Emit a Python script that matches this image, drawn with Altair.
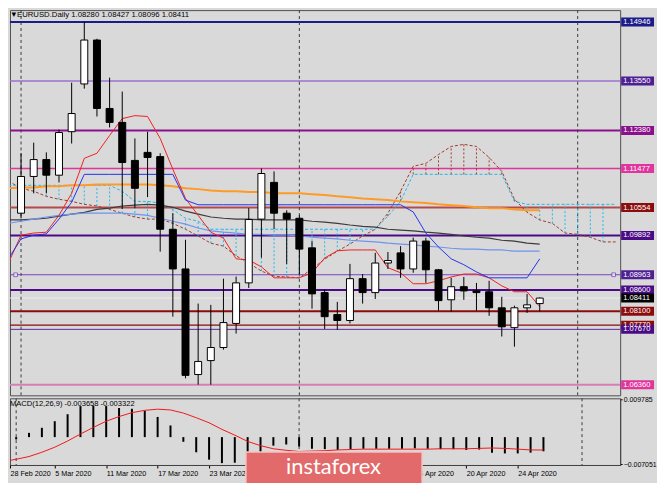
import altair as alt
import pandas as pd

# ---------------- data ----------------
date_labels = ["28 Feb 2020", "5 Mar 2020", "11 Mar 2020", "17 Mar 2020", "23 Mar 2020",
               "27 Mar 2020", "2 Apr 2020", "8 Apr 2020", "14 Apr 2020", "20 Apr 2020", "24 Apr 2020"]

opens = [1.0995, 1.1042, 1.1129, 1.1169, 1.1132, 1.1235, 1.1348, 1.1452, 1.1290, 1.1257,
         1.1167, 1.1186, 1.1176, 1.1004, 1.0910, 1.0660, 1.0693, 1.0724, 1.0781, 1.0877,
         1.1028, 1.1115, 1.1042, 1.1030, 1.0960, 1.0854, 1.0802, 1.0788, 1.0887, 1.0854,
         1.0924, 1.0948, 1.0910, 1.0976, 1.0908, 1.0837, 1.0868, 1.0858, 1.0856, 1.0818,
         1.0771, 1.0818, 1.08280]
highs = [1.1054, 1.1184, 1.1209, 1.1186, 1.1240, 1.1351, 1.1495, 1.1455, 1.1363, 1.1330,
         1.1219, 1.1235, 1.1184, 1.1042, 1.0979, 1.0828, 1.0825, 1.0887, 1.0892, 1.1054,
         1.1148, 1.1141, 1.1049, 1.1037, 1.0976, 1.0861, 1.0832, 1.0922, 1.0898, 1.0948,
         1.0950, 1.0964, 1.0984, 1.0984, 1.0910, 1.0889, 1.0891, 1.0877, 1.0882, 1.0844,
         1.0823, 1.0851, 1.08427]
lows = [1.0948, 1.1030, 1.1089, 1.1089, 1.1115, 1.1207, 1.1337, 1.1271, 1.1245, 1.1052,
        1.1054, 1.1080, 1.0951, 1.0797, 1.0651, 1.0636, 1.0636, 1.0719, 1.0757, 1.0865,
        1.0937, 1.1004, 1.0922, 1.0898, 1.0816, 1.0768, 1.0766, 1.0781, 1.0828, 1.0839,
        1.0910, 1.0889, 1.0901, 1.0877, 1.0811, 1.0809, 1.0837, 1.0811, 1.0799, 1.0750,
        1.0726, 1.0806, 1.08096]
closes = [1.1023, 1.1129, 1.1169, 1.1132, 1.1233, 1.1278, 1.1452, 1.1290, 1.1257, 1.1162,
          1.1101, 1.1174, 1.1004, 1.0910, 1.0658, 1.0691, 1.0724, 1.0783, 1.0877, 1.1027,
          1.1136, 1.1042, 1.1028, 1.0957, 1.0851, 1.0797, 1.0788, 1.0887, 1.0854, 1.0924,
          1.0930, 1.0910, 1.0976, 1.0908, 1.0835, 1.0868, 1.0858, 1.0854, 1.0818, 1.0773,
          1.0818, 1.0825, 1.08411]

tenkan = [1.0924, 1.0990, 1.0995, 1.0997, 1.1037, 1.1089, 1.1172, 1.1184, 1.1226, 1.1266,
          1.1273, 1.1271, 1.1219, 1.1146, 1.1077, 1.1037, 1.0997, 1.0983, 1.0934, 1.0931,
          1.0915, 1.0889, 1.0889, 1.0889, 1.0901, 1.0936, 1.0953, 1.0955, 1.0955, 1.0955,
          1.0913, 1.0901, 1.0875, 1.0875, 1.0882, 1.0891, 1.0898, 1.0898, 1.0889, 1.0870,
          1.0856, 1.0856, 1.0821]
kijun = [1.0934, 1.0981, 1.0990, 1.0993, 1.1028, 1.1068, 1.1134, 1.1134, 1.1134, 1.1134,
         1.1134, 1.1134, 1.1134, 1.1134, 1.1073, 1.1062, 1.1062, 1.1062, 1.1062, 1.1062,
         1.1062, 1.1062, 1.1062, 1.1062, 1.1062, 1.1062, 1.1062, 1.1062, 1.1062, 1.1062,
         1.1062, 1.1062, 1.1045, 1.0995, 1.0962, 1.0934, 1.0920, 1.0903, 1.0889, 1.0889,
         1.0889, 1.0889, 1.0934]
# senkou spans, 49 values (26 bars projected forward; only the visible part)
span_a = [1.1118, 1.1101, 1.1094, 1.1082, 1.1075, 1.1070, 1.1063, 1.1059, 1.1051, 1.1042,
          1.1033, 1.1028, 1.1028, 1.1018, 1.1004, 1.0988, 1.0971, 1.0964, 1.0941, 1.0924,
          1.0905, 1.0893, 1.0891, 1.0889, 1.0910, 1.0933, 1.0952, 1.0969, 1.0988, 1.1004,
          1.1042, 1.1094, 1.1153, 1.1160, 1.1181, 1.1200, 1.1205, 1.1200, 1.1174, 1.1141,
          1.1075, 1.1044, 1.1026, 1.1018, 1.0995, 1.0992, 1.0985, 1.0974, 1.0974]
span_b = [1.1108, 1.1108, 1.1108, 1.1108, 1.1108, 1.1108, 1.1108, 1.1108, 1.1108, 1.1094,
          1.1070, 1.1070, 1.1066, 1.1051, 1.1030, 1.1023, 1.1004, 1.1004, 1.1004, 1.1004,
          1.1004, 1.1004, 1.1004, 1.1004, 1.1004, 1.1004, 1.1004, 1.1004, 1.1004, 1.1004,
          1.1035, 1.1070, 1.1134, 1.1134, 1.1134, 1.1134, 1.1134, 1.1134, 1.1134, 1.1134,
          1.1070, 1.1063, 1.1063, 1.1063, 1.1063, 1.1063, 1.1063, 1.1063, 1.1063]
ma_orange = [1.1101, 1.1103, 1.1103, 1.1106, 1.1106, 1.1108, 1.1108, 1.1110, 1.1110, 1.1110,
             1.1110, 1.1110, 1.1108, 1.1106, 1.1101, 1.1099, 1.1096, 1.1094, 1.1094, 1.1092,
             1.1092, 1.1089, 1.1089, 1.1089, 1.1087, 1.1085, 1.1082, 1.1080, 1.1077, 1.1075,
             1.1073, 1.1070, 1.1068, 1.1066, 1.1063, 1.1061, 1.1059, 1.1056, 1.1054, 1.1054,
             1.1051, 1.1049, 1.1049]
ma_black = [1.1026, 1.1026, 1.1028, 1.1030, 1.1035, 1.1040, 1.1044, 1.1051, 1.1054, 1.1059,
            1.1061, 1.1063, 1.1061, 1.1056, 1.1047, 1.1040, 1.1033, 1.1030, 1.1028, 1.1028,
            1.1026, 1.1026, 1.1026, 1.1026, 1.1023, 1.1021, 1.1018, 1.1014, 1.1011, 1.1009,
            1.1004, 1.1002, 1.1000, 1.0997, 1.0995, 1.0992, 1.0988, 1.0985, 1.0983, 1.0978,
            1.0976, 1.0971, 1.0969]
ma_blue = [1.1018, 1.1023, 1.1028, 1.1033, 1.1037, 1.1040, 1.1042, 1.1042, 1.1042, 1.1042,
           1.1040, 1.1037, 1.1030, 1.1023, 1.1016, 1.1007, 1.1000, 1.0997, 1.0995, 1.0992,
           1.0992, 1.0990, 1.0990, 1.0988, 1.0985, 1.0983, 1.0981, 1.0978, 1.0976, 1.0974,
           1.0971, 1.0969, 1.0967, 1.0964, 1.0962, 1.0959, 1.0957, 1.0957, 1.0955, 1.0955,
           1.0952, 1.0952, 1.0952]
macd_main = [-0.0028, -0.0006, 0.0011, 0.0024, 0.0041, 0.0059, 0.0080, 0.0081, 0.0080, 0.0075,
             0.0073, 0.0068, 0.0052, 0.0030, -0.0012, -0.0039, -0.0058, -0.0067, -0.0066, -0.0060,
             -0.0045, -0.0022, -0.0019, -0.0024, -0.0030, -0.0031, -0.0033, -0.0031, -0.0030, -0.0030,
             -0.0030, -0.0030, -0.0029, -0.0030, -0.0031, -0.0031, -0.0033, -0.0032, -0.0040, -0.0042,
             -0.0042, -0.0040, -0.003658]
macd_signal = [-0.0063, -0.0057, -0.0050, -0.0039, -0.0026, -0.0010, 0.0008, 0.0025, 0.0041, 0.0053,
               0.0063, 0.0069, 0.0072, 0.0070, 0.0062, 0.0050, 0.0037, 0.0020, 0.0005, -0.0011,
               -0.0022, -0.0030, -0.0034, -0.0037, -0.0036, -0.0035, -0.0033, -0.0032, -0.0031, -0.0031,
               -0.0031, -0.0031, -0.0031, -0.0031, -0.0030, -0.0030, -0.0030, -0.0029, -0.0028, -0.0029,
               -0.0031, -0.0033, -0.003322]

level_prices = [1.14946, 1.13550, 1.12380, 1.11477, 1.10554, 1.09892, 1.08963, 1.08600,
                1.08100, 1.07770, 1.07670, 1.06360]
level_line_colors = ["#1b1b8a", "#9b70d2", "#8b108b", "#e0359c", "#b44b4b", "#4b0a86",
                     "#7444c0", "#4b0a86", "#8b0c0c", "#8b0c0c", "#5a2aa6", "#d77fb2"]
level_box_colors = ["#1b1b8a", "#4f1f94", "#8b108b", "#e0359c", "#8b0c0c", "#4b0a86",
                    "#4f1f94", "#4b0a86", "#8b0c0c", "#8b0c0c", "#4b0a86", "#e0359c"]
level_widths = [2, 1.5, 2, 1.5, 2, 2, 1, 2, 2, 1.5, 1, 2]
bid_price = 1.08411
axis_ticks = [1.14330, 1.13700, 1.13070, 1.12440, 1.11825, 1.11195, 1.10565, 1.09935,
              1.09320, 1.08690, 1.08060, 1.07445, 1.06815, 1.06185]
macd_ticks = [0.009785, 0.0, -0.007051]
separators = [1, 23, 45]

title_text = "EURUSD.Daily  1.08280 1.08427 1.08096 1.08411"
macd_text = "MACD(12,26,9) -0.003658 -0.003322"

# ---------------- layout constants ----------------
W, H_MAIN, H_MACD = 613, 387, 67
XMIN = 0.52
XMAX = XMIN + W / 12.92
PMIN, PMAX = 1.06108, 1.15229
MMIN, MMAX = -0.00718, 0.01000
BG = "#d9d9d9"
FONT = "Liberation Sans"
BOX_HALF = 0.00106

n = len(opens)
bars = pd.DataFrame({"i": list(range(n)), "o": opens, "h": highs, "l": lows, "c": closes})
bars["up"] = bars["c"] >= bars["o"]
bars["fill"] = bars["up"].map({True: "#ffffff", False: "#000000"})
bars = bars[bars["i"] >= 1]

ind = pd.DataFrame({"i": list(range(n)), "tenkan": tenkan, "kijun": kijun,
                    "orange": ma_orange, "black": ma_black, "lblue": ma_blue})
cloud = pd.DataFrame({"i": list(range(len(span_a))), "a": span_a, "b": span_b})
cloud["lo"] = cloud[["a", "b"]].min(axis=1)
cloud["hi"] = cloud[["a", "b"]].max(axis=1)
cloud["col"] = ["#a03a2a" if a > b else "#21b8ee" for a, b in zip(cloud["a"], cloud["b"])]
cloud_h = cloud[(cloud["i"] >= 1) & (cloud["i"] <= 47)]

levels = pd.DataFrame({"p": level_prices, "lc": level_line_colors, "bc": level_box_colors,
                       "w": level_widths})
levels["lab"] = levels["p"].map(lambda v: f"{v:.5f}")
boxes = pd.concat([levels[["p", "bc", "lab"]],
                   pd.DataFrame({"p": [bid_price], "bc": ["#000000"], "lab": [f"{bid_price:.5f}"]})],
                  ignore_index=True)
boxes = boxes.iloc[[0, 1, 2, 3, 4, 5, 6, 7, 12, 8, 9, 10, 11]].reset_index(drop=True)
boxes["y1"] = boxes["p"] - BOX_HALF
boxes["y2"] = boxes["p"] + BOX_HALF

xs = alt.Scale(domain=[XMIN, XMAX], nice=False, zero=False)
ys = alt.Scale(domain=[PMIN, PMAX], nice=False, zero=False)
X = alt.X("i:Q", scale=xs, axis=None)

def Yp(field):
    return alt.Y(f"{field}:Q", scale=ys, axis=None)

base_ind = alt.Chart(ind)

lvl_rules = alt.Chart(levels).mark_rule().encode(
    y=alt.Y("p:Q", scale=ys, axis=alt.Axis(orient="right", values=axis_ticks, format=".5f",
                                            title=None, grid=False, tickSize=3, tickColor="#000",
                                            labelFontSize=7.6, labelFont=FONT, labelColor="#000",
                                            labelPadding=2, domain=True, domainColor="#444")),
    color=alt.Color("lc:N", scale=None),
    strokeWidth=alt.StrokeWidth("w:Q", scale=None),
)
bid_rule = alt.Chart(pd.DataFrame({"p": [bid_price]})).mark_rule(color="#ececec", strokeWidth=1).encode(
    y=Yp("p"))
ends = alt.Chart(pd.DataFrame({"i": [XMIN + 0.05, XMAX - 0.12], "p": [1.08963, 1.08963]})).mark_square(
    size=14, filled=True, color="#ffffff", stroke="#6a3ab0", strokeWidth=1).encode(x=X, y=Yp("p"))

sep_main = alt.Chart(pd.DataFrame({"i": separators})).mark_rule(
    color="#3a3a3a", strokeDash=[3, 3], strokeWidth=1).encode(x=X)

hatch = alt.Chart(cloud_h).mark_rule(strokeDash=[2, 2], strokeWidth=1).encode(
    x=X, y=Yp("lo"), y2="hi:Q", color=alt.Color("col:N", scale=None))
line_a = alt.Chart(cloud).mark_line(color="#a03a2a", strokeDash=[3, 2], strokeWidth=1, clip=True).encode(
    x=X, y=Yp("a"))
line_b = alt.Chart(cloud).mark_line(color="#21b8ee", strokeDash=[3, 2], strokeWidth=1, clip=True).encode(
    x=X, y=Yp("b"))

ma_o = base_ind.mark_line(color="#ff9a26", strokeWidth=2, clip=True).encode(x=X, y=Yp("orange"))
ma_k = base_ind.mark_line(color="#3c3c3c", strokeWidth=1.2, clip=True).encode(x=X, y=Yp("black"))
ma_b = base_ind.mark_line(color="#6f94f0", strokeWidth=1.2, clip=True).encode(x=X, y=Yp("lblue"))
tk = base_ind.mark_line(color="#f02020", strokeWidth=1, clip=True).encode(x=X, y=Yp("tenkan"))
kj = base_ind.mark_line(color="#2233ee", strokeWidth=1, clip=True).encode(x=X, y=Yp("kijun"))

wicks = alt.Chart(bars).mark_rule(color="#000000", strokeWidth=1).encode(x=X, y=Yp("l"), y2="h:Q")
bodies = alt.Chart(bars).mark_bar(size=7, stroke="#000000", strokeWidth=1).encode(
    x=X, y=Yp("o"), y2="c:Q", fill=alt.Fill("fill:N", scale=None))

title_df = pd.DataFrame({"t": ["\u25BC", title_text], "x": [0, 7]})
title_mark = alt.Chart(title_df).mark_text(align="left", baseline="top", font=FONT,
                                             fontSize=7.8, color="#000").encode(
    x=alt.X("x:Q", scale=None), y=alt.value(0.5), text="t:N")

box_rects = alt.Chart(boxes).mark_rect().encode(
    x=alt.value(W + 1), x2=alt.value(W + 34), y=Yp("y1"), y2="y2:Q", fill=alt.Fill("bc:N", scale=None))
box_texts = alt.Chart(boxes).mark_text(align="left", baseline="middle", font=FONT, fontSize=7.6,
                                       color="#ffffff").encode(x=alt.value(W + 3), y=Yp("p"), text="lab:N")

main = alt.layer(lvl_rules, bid_rule, sep_main, hatch, line_a, line_b, ma_o, ma_k, ma_b, tk, kj,
                 wicks, bodies, ends, title_mark, box_rects, box_texts).properties(width=W, height=H_MAIN)

# ---------------- MACD panel ----------------
macd = pd.DataFrame({"i": list(range(n)), "m": macd_main, "s": macd_signal})
ms = alt.Scale(domain=[MMIN, MMAX], nice=False, zero=False)
label_arr = "[" + ",".join(f"'{d}'" for d in date_labels) + "]"
tick_vals = [XMIN] + list(range(4, 41, 4))
Xm = alt.X("i:Q", scale=xs, axis=alt.Axis(values=tick_vals,
                                          labelExpr=f"{label_arr}[round(datum.value/4)]",
                                          title=None, grid=False, tickSize=3, tickColor="#000",
                                          labelAlign="left", labelFontSize=7.2, labelFont=FONT,
                                          labelColor="#000", labelPadding=2, domain=True,
                                          domainColor="#444", labelFlush=False, labelOverlap=False))
zero_df = pd.DataFrame({"z": [0.0] * n, "i": list(range(n)), "m": macd_main})
zero_df = zero_df[zero_df["i"] >= 1]
hist = alt.Chart(zero_df).mark_rule(color="#000000", strokeWidth=2).encode(
    x=Xm, y=alt.Y("z:Q", scale=ms, axis=alt.Axis(orient="right", values=macd_ticks,
                                                 labelExpr="datum.value == 0 ? '0.00' : format(datum.value, '.6f')",
                                                 title=None, grid=False, tickSize=2, tickColor="#000",
                                                 labelFontSize=7.0, labelFont=FONT, labelColor="#000",
                                                 labelPadding=1, domain=True, domainColor="#444")),
    y2="m:Q")
sig = alt.Chart(macd).mark_line(color="#f01818", strokeWidth=1, clip=True).encode(
    x=alt.X("i:Q", scale=xs), y=alt.Y("s:Q", scale=ms))
sep_macd = alt.Chart(pd.DataFrame({"i": separators})).mark_rule(
    color="#3a3a3a", strokeDash=[3, 3], strokeWidth=1).encode(x=alt.X("i:Q", scale=xs))
macd_title = alt.Chart(pd.DataFrame({"t": [macd_text]})).mark_text(
    align="left", baseline="middle", font=FONT, fontSize=7.6, color="#000").encode(
    x=alt.value(0), y=alt.value(6), text="t:N")
logo_rect = alt.Chart(pd.DataFrame({"k": [1]})).mark_rect(
    fill="#e26a6a", stroke="#f4c4c4", strokeWidth=1.5).encode(
    x=alt.value(237), x2=alt.value(414), y=alt.value(54), y2=alt.value(86))
logo_text = alt.Chart(pd.DataFrame({"t": ["instaforex"]})).mark_text(
    align="center", baseline="middle", font="Lato", fontSize=22, color="#ffffff").encode(
    x=alt.value(325), y=alt.value(69), text="t:N")

macd_panel = alt.layer(sep_macd, hist, sig, macd_title, logo_rect, logo_text).properties(
    width=W, height=H_MACD)

chart = alt.vconcat(main, macd_panel, spacing=3, bounds="flush").configure(
    background=BG, padding=0
).configure_view(stroke="#505050", strokeWidth=1)

chart.save("out.html", embed_options={"renderer": "svg", "actions": False})
